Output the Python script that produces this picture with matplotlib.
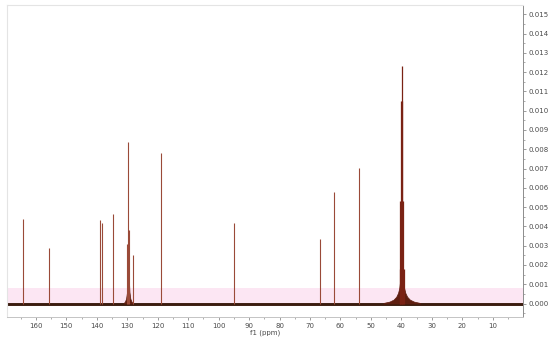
import numpy as np
import matplotlib
matplotlib.use("Agg")
import matplotlib.pyplot as plt
from matplotlib.ticker import MultipleLocator, FormatStrFormatter

# ---- data (ppm, intensity) ----
peak_ppm = [164.2, 155.6, 139.0, 138.2, 134.8, 130.2, 129.9, 129.5, 128.0,
            119.0, 94.9, 66.7, 62.2, 53.8]
peak_height = [0.00438, 0.00289, 0.00433, 0.00416, 0.00464, 0.0031, 0.0084,
               0.0038, 0.0025, 0.00783, 0.00416, 0.00333, 0.00579, 0.00704]

# DMSO-d6 solvent septet
dmso_ppm = [40.52, 40.31, 40.10, 39.89, 39.68, 39.47, 39.26]
dmso_height = [0.0018, 0.0053, 0.0105, 0.0123, 0.0105, 0.0053, 0.0018]

# broad base (wings) of the solvent signal: offset from centre (ppm), height
dmso_wing_offset = [0.0, 0.3, 0.5, 0.8, 1.2, 1.8, 2.7, 4.0, 6.0]
dmso_wing_height = [0.0035, 0.0020, 0.0012, 0.0008, 0.00055, 0.00035, 0.0002, 0.0001, 0.00003]
dmso_center = 39.9

# wings of the 129.7 ppm cluster
cl_wing_offset = [0.0, 0.2, 0.4, 0.7, 1.1, 1.6]
cl_wing_height = [0.0034, 0.0014, 0.0006, 0.00025, 0.0001, 0.0]
cl_center = 129.7

x_ticks = list(range(160, 0, -10))
y_ticks = [round(0.001 * i, 3) for i in range(0, 16)]

# ---- figure ----
W, H = 550, 339
fig = plt.figure(figsize=(W / 100, H / 100), dpi=100)
ax = fig.add_axes([7 / W, 1 - 317 / H, (523 - 7) / W, (317 - 5) / H])

spec_col = "#9a4a38"
base_col = "#3a1c0e"

# pink band near baseline
ax.axhspan(-0.0001, 0.0008, color="#fce6f3", zorder=0, lw=0)

# baseline
ax.plot([169.5, 0.07], [0, 0], color=base_col, lw=2.1, zorder=2, solid_capstyle="butt")

# wings
for c, offs, hs in [(dmso_center, dmso_wing_offset, dmso_wing_height),
                    (cl_center, cl_wing_offset, cl_wing_height)]:
    offs = np.array(offs)
    hs = np.array(hs)
    xs = np.concatenate([c - offs[::-1], c + offs[1:]])
    ys = np.concatenate([hs[::-1], hs[1:]])
    ax.fill_between(xs, 0, ys, color="#5e1e10", lw=0.5, zorder=3)

# peaks
ax.vlines(peak_ppm, 0, peak_height, color=spec_col, lw=0.8, zorder=4)
ax.vlines(dmso_ppm, 0, dmso_height, color="#7a2214", lw=0.9, zorder=4)

ax.set_xlim(169.5, 0.07)
ax.set_ylim(-0.0007, 0.01548)

# axes styling
for s in ["left", "top"]:
    ax.spines[s].set_color("#e4e4e4")
    ax.spines[s].set_linewidth(0.8)
ax.spines["right"].set_color("#8c8c8c")
ax.spines["right"].set_linewidth(0.7)
ax.spines["bottom"].set_color("#c4c4c4")
ax.spines["bottom"].set_linewidth(0.7)

ax.yaxis.tick_right()
ax.set_yticks(y_ticks)
ax.yaxis.set_major_formatter(FormatStrFormatter("%.3f"))
ax.yaxis.set_minor_locator(MultipleLocator(0.0005))
ax.set_xticks(x_ticks)
ax.set_xticklabels([str(t) for t in x_ticks])
ax.xaxis.set_minor_locator(MultipleLocator(5))

ax.tick_params(axis="both", which="major", direction="out", length=2.5, width=0.6,
               color="#8c8c8c", labelsize=5, labelcolor="#4a4a4a", pad=1.5)
ax.tick_params(axis="both", which="minor", direction="out", length=1.5, width=0.5,
               color="#8c8c8c")
ax.tick_params(axis="x", which="both", top=False)
ax.tick_params(axis="y", which="both", left=False, right=True)

ax.set_xlabel("f1 (ppm)", fontsize=5, color="#4a4a4a", labelpad=0.5)

fig.savefig("out.png", dpi=100, facecolor="white")
